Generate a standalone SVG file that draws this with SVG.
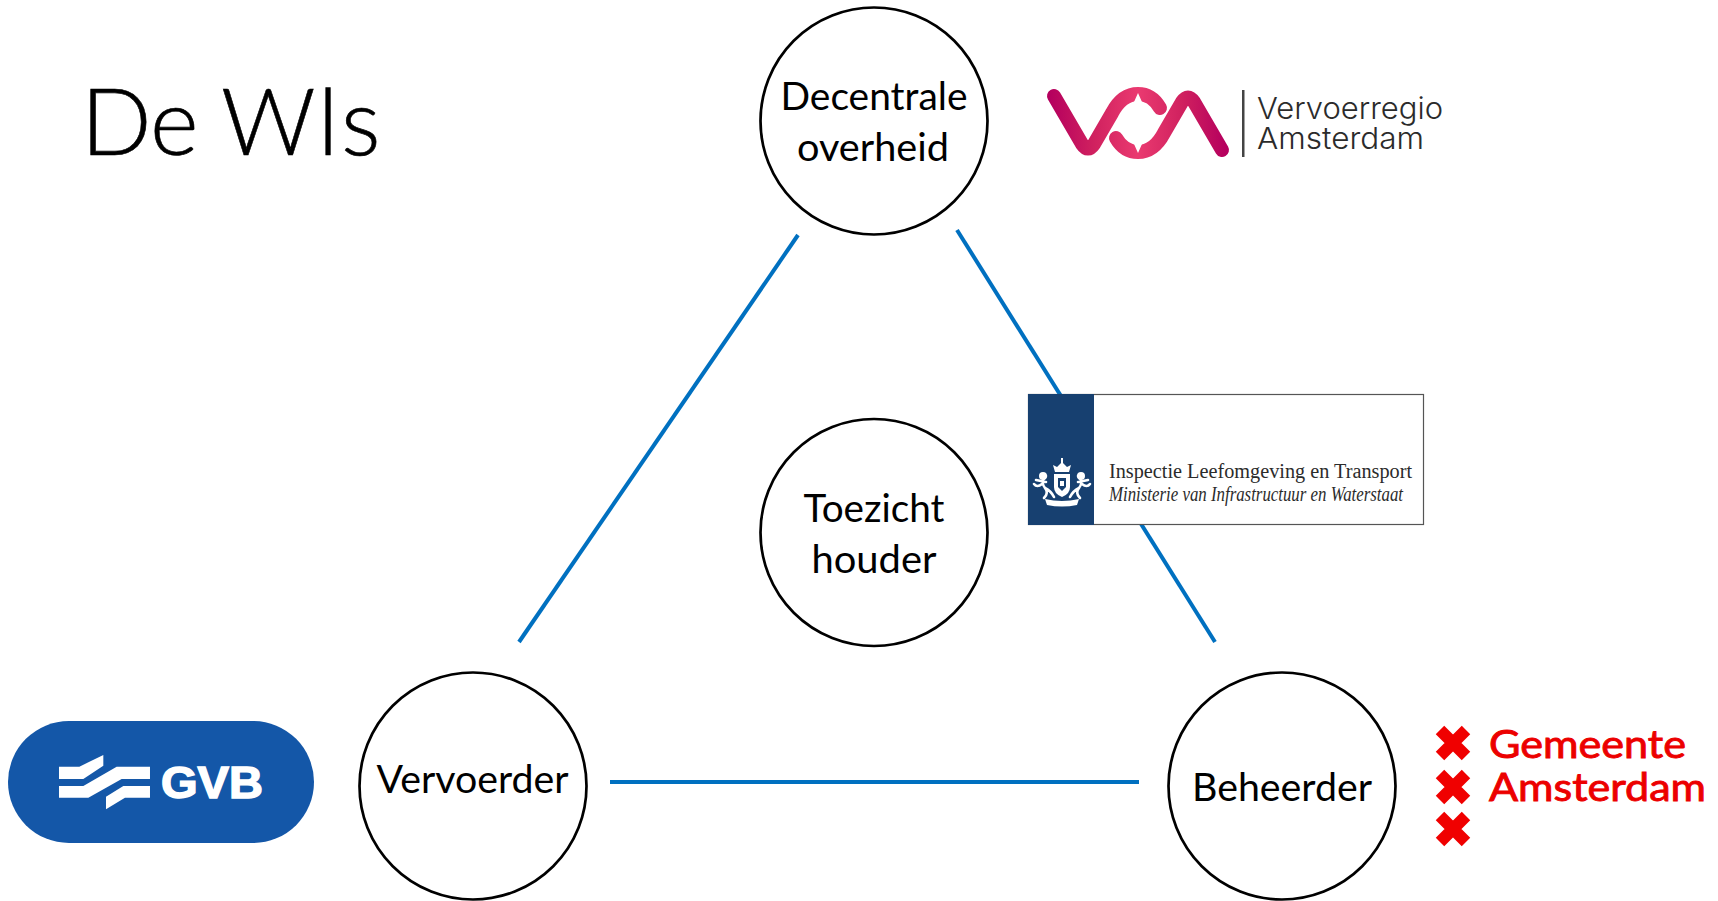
<svg xmlns="http://www.w3.org/2000/svg" width="1718" height="901" viewBox="0 0 1718 901">
<style>
.c{fill:#fff;stroke:#000;stroke-width:2.700}
.l{font-family:Lato,"Liberation Sans",sans-serif;font-size:38px;fill:#000;text-anchor:middle}
.k{stroke:#0070C0;stroke-width:4;fill:none}
.v{font-family:Inter,"Liberation Sans",sans-serif;font-weight:300;font-size:30px;fill:#2b2b2b}
.i{font-family:"Liberation Serif",serif;font-size:20px;fill:#2b2b2b}
.a{font-family:Lato,"Liberation Sans",sans-serif;font-weight:400;font-size:39px;fill:#EC0000;stroke:#EC0000;stroke-width:.9}
.x{stroke:#F00000;stroke-width:12;fill:none}
.e{fill:none;stroke:#fff;stroke-width:2.600;stroke-linecap:round}
</style>
<defs>
<linearGradient id="g" gradientUnits="userSpaceOnUse" x1="1050" y1="0" x2="1226" y2="0">
<stop offset="0" stop-color="#B5005E"/><stop offset=".25" stop-color="#D0215F"/><stop offset=".5" stop-color="#EA3A70"/><stop offset=".75" stop-color="#D0215F"/><stop offset="1" stop-color="#B5005E"/>
</linearGradient>
<g id="lion">
<circle cx="1043" cy="476" r="4" fill="#fff"/>
<path class="e" d="M1046,476 Q1040,482 1045,488 Q1049,493 1044,498 M1046,482 L1036,480 M1045,488 Q1051,491 1054,497 M1042,484 Q1037,488 1034,484"/>
</g>
</defs>
<rect width="1718" height="901" fill="#fff"/>
<text id="title" y="155" font-family="Lato,'Liberation Sans',sans-serif" font-weight="300" font-size="93" fill="#000" stroke="#000" stroke-width=".6"><tspan x="81" letter-spacing="-1">De</tspan><tspan x="221" letter-spacing="2.500">Wls</tspan></text>
<g id="connectors">
<line class="k" x1="798" y1="235" x2="519" y2="642"/>
<line class="k" x1="957" y1="230" x2="1215" y2="642"/>
<line class="k" x1="610" y1="782" x2="1139" y2="782"/>
</g>
<g id="node-decentrale"><circle class="c" cx="874" cy="121" r="113.500"/><text class="l" x="874" y="110" textLength="187" lengthAdjust="spacingAndGlyphs">Decentrale</text><text class="l" x="873" y="161" textLength="152" lengthAdjust="spacingAndGlyphs">overheid</text></g>
<g id="node-toezicht"><circle class="c" cx="874" cy="532.500" r="113.500"/><text class="l" x="874" y="522" textLength="141" lengthAdjust="spacingAndGlyphs">Toezicht</text><text class="l" x="874" y="573" textLength="125" lengthAdjust="spacingAndGlyphs">houder</text></g>
<g id="node-vervoerder"><circle class="c" cx="473" cy="786" r="113.500"/><text class="l" x="472.500" y="793" textLength="192" lengthAdjust="spacingAndGlyphs">Vervoerder</text></g>
<g id="node-beheerder"><circle class="c" cx="1282" cy="786" r="113.500"/><text class="l" x="1282" y="801" textLength="180" lengthAdjust="spacingAndGlyphs">Beheerder</text></g>
<g id="logo-vra">
<path d="M1054,96 L1082,144 Q1088,153 1094,144 L1112,113 Q1122,94 1138,94 Q1152,94 1160,108" fill="none" stroke="url(#g)" stroke-width="14" stroke-linecap="round"/>
<path d="M1222,150 L1194,102 Q1188,93 1182,102 L1164,133 Q1154,152 1138,152 Q1124,152 1116,138" fill="none" stroke="url(#g)" stroke-width="14" stroke-linecap="round"/>
<path d="M1138,93 L1142,102 L1134,102 Z M1138,153 L1142,144 L1134,144 Z" fill="#fff"/>
<rect x="1242" y="90" width="2.500" height="67" fill="#444"/>
<text class="v" x="1257" y="119" textLength="186" lengthAdjust="spacingAndGlyphs">Vervoerregio</text>
<text class="v" x="1257" y="149" textLength="167" lengthAdjust="spacingAndGlyphs">Amsterdam</text>
</g>
<g id="logo-ilt">
<rect x="1028.500" y="394.500" width="395" height="130" fill="#fff" stroke="#555" stroke-width="1.200"/>
<rect x="1028" y="394" width="66" height="131" fill="#174070"/>
<path d="M1055,472 L1053,465 L1057,467 L1062,462 L1067,467 L1071,465 L1069,472 Z M1061,458 H1063 V463 H1061 Z" fill="#fff"/>
<path d="M1054,474 H1070 V487 Q1070,494 1062,497 Q1054,494 1054,487 Z" fill="#fff"/>
<path d="M1058,478 H1066 V487 L1062,491 L1058,487 Z" fill="#174070"/>
<path d="M1060,481 H1064 V486 H1060 Z" fill="#fff"/>
<use href="#lion"/>
<use href="#lion" transform="translate(2124,0) scale(-1,1)"/>
<path d="M1045,499 Q1062,503 1079,499 L1077,505 Q1062,508 1047,505 Z" fill="#fff"/>
<text class="i" x="1109" y="478" textLength="303" lengthAdjust="spacingAndGlyphs">Inspectie Leefomgeving en Transport</text>
<text class="i" x="1109" y="501" font-style="italic" textLength="294" lengthAdjust="spacingAndGlyphs">Ministerie van Infrastructuur en Waterstaat</text>
</g>
<g id="logo-gvb">
<rect x="8" y="721" width="306" height="122" rx="61" fill="#1457A8"/>
<g transform="translate(0,700) scale(.3333)" fill="#fff">
<path d="M177,200 H238 L310,165 V197 L250,237 H177 Z"/>
<path d="M177,258 H250 L350,200 H450 V237 H365 L265,293 H177 Z"/>
<path d="M318,290 L370,258 H450 V293 H375 L318,328 Z"/>
</g>
<text x="161" y="798" font-family="Liberation Sans,sans-serif" font-weight="700" font-size="44" fill="#fff" stroke="#fff" stroke-width="1.500" textLength="102" lengthAdjust="spacingAndGlyphs">GVB</text>
</g>
<g id="logo-amsterdam">
<path class="x" d="M1440,730 L1466,756 M1466,730 L1440,756 M1440,774 L1466,800 M1466,774 L1440,800 M1440,816 L1466,842 M1466,816 L1440,842"/>
<text class="a" x="1489" y="758" textLength="197" lengthAdjust="spacingAndGlyphs">Gemeente</text>
<text class="a" x="1489" y="801" textLength="217" lengthAdjust="spacingAndGlyphs">Amsterdam</text>
</g>
</svg>
